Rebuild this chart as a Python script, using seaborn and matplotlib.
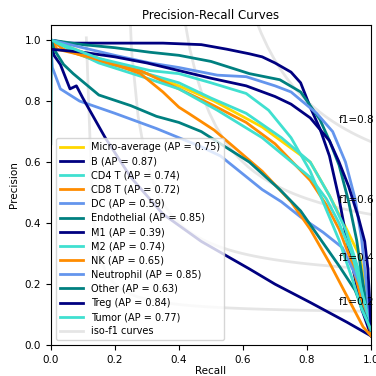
import numpy as np
import matplotlib
matplotlib.use("Agg")
import matplotlib.pyplot as plt
import seaborn as sns

# ---- data ----
class_names = ["B", "CD4 T", "CD8 T", "DC", "Endothelial", "M1", "M2", "NK",
               "Neutrophil", "Other", "Treg", "Tumor"]
ap_values = [0.87, 0.74, 0.72, 0.59, 0.85, 0.39, 0.74, 0.65, 0.85, 0.63, 0.84, 0.77]
micro_ap = 0.75

micro_recall = [0.0, 0.05, 0.15, 0.3, 0.4, 0.51, 0.66, 0.725, 0.81, 0.87, 0.925, 0.965, 0.99, 1.0]
micro_precision = [1.0, 0.98, 0.94, 0.89, 0.85, 0.80, 0.715, 0.665, 0.60, 0.49, 0.377, 0.29, 0.15, 0.08]

b_recall = [0.0, 0.05, 0.2, 0.35, 0.47, 0.55, 0.62, 0.66, 0.7, 0.75, 0.78, 0.81, 0.84, 0.87, 0.9, 0.925, 0.95, 0.97, 1.0]
b_precision = [1.0, 0.99, 0.99, 0.99, 0.985, 0.97, 0.955, 0.945, 0.925, 0.895, 0.86, 0.78, 0.71, 0.62, 0.48, 0.34, 0.22, 0.12, 0.03]

cd4_recall = [0.0, 0.05, 0.15, 0.3, 0.4, 0.5, 0.61, 0.72, 0.81, 0.87, 0.92, 0.96, 1.0]
cd4_precision = [1.0, 0.98, 0.93, 0.89, 0.86, 0.81, 0.76, 0.68, 0.60, 0.49, 0.38, 0.25, 0.06]

cd8_recall = [0.0, 0.04, 0.15, 0.28, 0.4, 0.5, 0.61, 0.7, 0.81, 0.86, 0.9, 0.94, 0.97, 1.0]
cd8_precision = [1.0, 0.97, 0.93, 0.90, 0.84, 0.79, 0.73, 0.66, 0.54, 0.46, 0.38, 0.27, 0.15, 0.04]

dc_recall = [0.0, 0.005, 0.03, 0.09, 0.2, 0.33, 0.47, 0.53, 0.66, 0.72, 0.78, 0.85, 0.91, 0.965, 1.0]
dc_precision = [1.0, 0.91, 0.84, 0.80, 0.76, 0.71, 0.65, 0.62, 0.51, 0.47, 0.42, 0.37, 0.32, 0.20, 0.05]

endo_recall = [0.0, 0.1, 0.2, 0.31, 0.4, 0.5, 0.62, 0.715, 0.78, 0.84, 0.87, 0.9, 0.93, 0.955, 0.975, 1.0]
endo_precision = [1.0, 0.985, 0.975, 0.96, 0.95, 0.93, 0.89, 0.87, 0.83, 0.74, 0.67, 0.59, 0.47, 0.344, 0.2, 0.05]

m1_recall = [0.0, 0.01, 0.03, 0.06, 0.08, 0.10, 0.17, 0.25, 0.35, 0.47, 0.52, 0.62, 0.7, 0.81, 0.925, 1.0]
m1_precision = [1.0, 0.95, 0.92, 0.84, 0.85, 0.81, 0.68, 0.55, 0.43, 0.34, 0.31, 0.25, 0.20, 0.14, 0.075, 0.03]

m2_recall = [0.0, 0.05, 0.15, 0.3, 0.4, 0.52, 0.66, 0.81, 0.86, 0.9, 0.94, 0.97, 1.0]
m2_precision = [1.0, 0.975, 0.925, 0.875, 0.84, 0.77, 0.68, 0.55, 0.48, 0.40, 0.30, 0.18, 0.06]

nk_recall = [0.0, 0.02, 0.1, 0.2, 0.28, 0.35, 0.4, 0.43, 0.51, 0.66, 0.75, 0.81, 0.87, 0.925, 0.975, 1.0]
nk_precision = [1.0, 0.97, 0.95, 0.92, 0.89, 0.83, 0.78, 0.76, 0.705, 0.57, 0.47, 0.38, 0.27, 0.16, 0.06, 0.03]

neut_recall = [0.0, 0.1, 0.2, 0.31, 0.4, 0.52, 0.61, 0.7, 0.75, 0.83, 0.88, 0.92, 0.95, 0.97, 0.985, 1.0]
neut_precision = [1.0, 0.975, 0.95, 0.925, 0.91, 0.885, 0.88, 0.85, 0.83, 0.76, 0.70, 0.60, 0.48, 0.35, 0.2, 0.05]

other_recall = [0.0, 0.002, 0.01, 0.04, 0.07, 0.15, 0.25, 0.33, 0.40, 0.47, 0.56, 0.62, 0.715, 0.78, 0.84, 0.9, 0.95, 0.98, 1.0]
other_precision = [0.66, 1.0, 0.97, 0.92, 0.89, 0.82, 0.785, 0.75, 0.73, 0.70, 0.64, 0.60, 0.51, 0.44, 0.35, 0.26, 0.18, 0.10, 0.05]

treg_recall = [0.0, 0.1, 0.2, 0.3, 0.4, 0.5, 0.61, 0.7, 0.75, 0.81, 0.87, 0.9, 0.93, 0.96, 0.98, 0.99, 1.0]
treg_precision = [0.97, 0.96, 0.945, 0.925, 0.90, 0.875, 0.85, 0.815, 0.79, 0.745, 0.67, 0.6, 0.52, 0.42, 0.34, 0.25, 0.05]

tumor_recall = [0.0, 0.05, 0.15, 0.31, 0.4, 0.5, 0.61, 0.68, 0.75, 0.81, 0.85, 0.9, 0.94, 0.97, 1.0]
tumor_precision = [1.0, 0.98, 0.94, 0.90, 0.89, 0.86, 0.825, 0.77, 0.68, 0.57, 0.47, 0.344, 0.22, 0.12, 0.05]

f_scores = [0.2, 0.4, 0.6, 0.8]

all_recall = [b_recall, cd4_recall, cd8_recall, dc_recall, endo_recall, m1_recall,
              m2_recall, nk_recall, neut_recall, other_recall, treg_recall, tumor_recall]
all_precision = [b_precision, cd4_precision, cd8_precision, dc_precision, endo_precision,
                 m1_precision, m2_precision, nk_precision, neut_precision, other_precision,
                 treg_precision, tumor_precision]

colors = ["navy", "turquoise", "darkorange", "cornflowerblue", "teal"]

fig = plt.figure(figsize=(3.76, 3.76), dpi=100)
ax = fig.add_axes([0.135, 0.082, 0.852, 0.852])

fs = 7.5
sns.lineplot(x=micro_recall, y=micro_precision, ax=ax, color="gold", lw=2,
             sort=False, estimator=None,
             label="Micro-average (AP = {0:0.2f})".format(micro_ap))

for i, name in enumerate(class_names):
    sns.lineplot(x=all_recall[i], y=all_precision[i], ax=ax,
                 color=colors[i % len(colors)], lw=2, sort=False, estimator=None,
                 label="{0} (AP = {1:0.2f})".format(name, ap_values[i]))

for k, f in enumerate(f_scores):
    x = np.linspace(0.01, 1)
    y = f * x / (2 * x - f)
    m = y >= 0
    ax.plot(x[m], y[m], color="gray", alpha=0.2, lw=2, zorder=1,
            label="iso-f1 curves" if k == 0 else None)
    ax.annotate("f1={0:0.1f}".format(f), xy=(0.9, y[45] + 0.02), fontsize=fs)

ax.set_xlim(0.0, 1.0)
ax.set_ylim(0.0, 1.05)
ax.set_xlabel("Recall", fontsize=fs, labelpad=1)
ax.set_ylabel("Precision", fontsize=fs, labelpad=4)
ax.set_title("Precision-Recall Curves", fontsize=8.5, pad=4)
ax.tick_params(labelsize=fs)
ax.legend(loc="lower left", fontsize=7, labelspacing=0.43, handlelength=2.4,
          borderpad=0.4)

fig.savefig("out.png", dpi=100)
